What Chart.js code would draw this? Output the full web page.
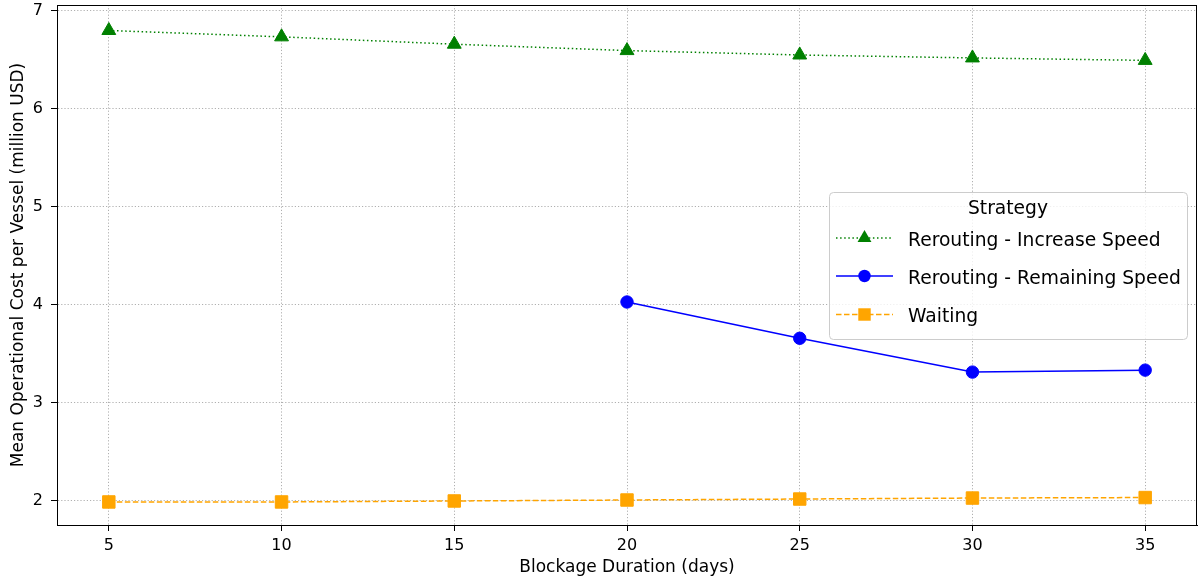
<!DOCTYPE html>
<html>
<head>
<meta charset="utf-8">
<script src="https://cdn.jsdelivr.net/npm/chart.js@4/dist/chart.umd.min.js"></script>
<style>
    html, body { margin: 0; padding: 0; background: #fff; }
    #wrap { width: 1198px; height: 583px; }
</style>
</head>
<body>
<div id="wrap"><canvas id="costChart" width="1198" height="583"></canvas></div>
<script>
// Blockage duration (days)
const durations = [5, 10, 15, 20, 25, 30, 35];

// Mean operational cost per vessel (million USD)
const increaseSpeed = [6.80, 6.735, 6.66, 6.595, 6.55, 6.52, 6.495];
const remainingSpeed = [null, null, null, 4.03, 3.66, 3.315, 3.335];
const waiting = [1.99, 1.99, 2.0, 2.01, 2.02, 2.03, 2.035];

const xTicks = [5, 10, 15, 20, 25, 30, 35];
const yTicks = [2, 3, 4, 5, 6, 7];

const seriesLabels = [
    'Rerouting - Increase Speed',
    'Rerouting - Remaining Speed',
    'Waiting',
];

const FONT = "'DejaVu Sans', sans-serif";

function toPoints(values) {
    return durations.map((d, i) => ({ x: d, y: values[i] }));
}

// 눈금 라벨 때문에 생기는 자동 여백 제거
function clearScalePadding(scale) {
    scale.paddingTop = 0;
    scale.paddingBottom = 0;
    scale.paddingLeft = 0;
    scale.paddingRight = 0;
}

/**
 * 차트 테두리 (위, 오른쪽 포함)
 */
const framePlugin = {
    id: 'frame',
    afterDraw(chart) {
        const { ctx, chartArea: a } = chart;
        ctx.save();
        ctx.strokeStyle = '#000';
        ctx.lineWidth = 1;
        ctx.strokeRect(a.left + 0.5, a.top + 0.5, a.right - a.left - 1, a.bottom - a.top);
        ctx.restore();
    },
};

/**
 * 범례 (matplotlib 스타일, 플롯 안쪽)
 */
const legendPlugin = {
    id: 'innerLegend',
    afterDraw(chart) {
        const ctx = chart.ctx;
        const box = { x: 829.5, y: 192.5, w: 358, h: 147 };
        ctx.save();

        // 박스
        ctx.beginPath();
        ctx.roundRect(box.x, box.y, box.w, box.h, 4);
        ctx.fillStyle = 'rgba(255,255,255,0.8)';
        ctx.fill();
        ctx.strokeStyle = '#cccccc';
        ctx.lineWidth = 1;
        ctx.stroke();

        // 제목
        ctx.fillStyle = '#000';
        ctx.font = '18.7px ' + FONT;
        ctx.textAlign = 'center';
        ctx.textBaseline = 'middle';
        ctx.fillText('Strategy', 1008, 209);

        const rows = [238, 276, 314.5];
        chart.data.datasets.forEach((ds, i) => {
            const y = rows[i];
            ctx.save();
            ctx.strokeStyle = ds.borderColor;
            ctx.lineWidth = ds.borderWidth;
            ctx.setLineDash(ds.borderDash || []);
            ctx.beginPath();
            ctx.moveTo(836, y);
            ctx.lineTo(893, y);
            ctx.stroke();
            ctx.restore();

            drawMarker(ctx, ds.pointStyle, 864.5, y, ds.pointRadius, ds.pointBackgroundColor);

            ctx.fillStyle = '#000';
            ctx.textAlign = 'left';
            ctx.fillText(ds.label, 908, y + 3);
        });
        ctx.restore();
    },
};

function drawMarker(ctx, style, x, y, r, color) {
    ctx.save();
    ctx.fillStyle = color;
    ctx.beginPath();
    if (style === 'triangle') {
        const h = r * Math.sqrt(3) / 2;
        ctx.moveTo(x, y - r);
        ctx.lineTo(x + h, y + r / 2);
        ctx.lineTo(x - h, y + r / 2);
        ctx.closePath();
    } else if (style === 'rect') {
        const s = r * Math.SQRT1_2;
        ctx.rect(x - s, y - s, 2 * s, 2 * s);
    } else {
        ctx.arc(x, y, r, 0, Math.PI * 2);
    }
    ctx.fill();
    ctx.restore();
}

function initCostChart() {
    const ctx = document.getElementById('costChart');

    new Chart(ctx, {
        type: 'line',
        data: {
            datasets: [
                {
                    label: seriesLabels[0],
                    data: toPoints(increaseSpeed),
                    borderColor: '#008000',
                    backgroundColor: '#008000',
                    borderWidth: 1.5,
                    borderDash: [1.5, 2.6],
                    pointStyle: 'triangle',
                    pointRadius: 8,
                    pointBackgroundColor: '#008000',
                    pointBorderColor: '#008000',
                    pointBorderWidth: 1,
                },
                {
                    label: seriesLabels[1],
                    data: toPoints(remainingSpeed),
                    borderColor: '#0000ff',
                    backgroundColor: '#0000ff',
                    borderWidth: 1.5,
                    borderDash: [],
                    pointStyle: 'circle',
                    pointRadius: 6.2,
                    pointBackgroundColor: '#0000ff',
                    pointBorderColor: '#0000ff',
                    pointBorderWidth: 1,
                },
                {
                    label: seriesLabels[2],
                    data: toPoints(waiting),
                    borderColor: '#ffa500',
                    backgroundColor: '#ffa500',
                    borderWidth: 1.5,
                    borderDash: [5.5, 2.5],
                    pointStyle: 'rect',
                    pointRadius: 8.8,
                    pointBackgroundColor: '#ffa500',
                    pointBorderColor: '#ffa500',
                    pointBorderWidth: 1,
                },
            ],
        },
        options: {
            responsive: false,
            animation: false,
            spanGaps: false,
            layout: {
                autoPadding: false,
                padding: { top: 5, right: 1, left: 0, bottom: 0 },
            },
            plugins: {
                legend: { display: false },
                tooltip: { enabled: false },
            },
            scales: {
                x: {
                    type: 'linear',
                    min: 3.5,
                    max: 36.5,
                    afterBuildTicks: (scale) => {
                        scale.ticks = xTicks.map((v) => ({ value: v }));
                    },
                    afterFit: (scale) => {
                        scale.height = 58;
                        clearScalePadding(scale);
                    },
                    ticks: {
                        color: '#000',
                        padding: 5,
                        maxRotation: 0,
                        font: { family: FONT, size: 16 },
                        callback: (v) => String(v),
                    },
                    grid: {
                        color: '#b0b0b0',
                        lineWidth: 1,
                        tickColor: '#000',
                        tickLength: 6,
                        tickWidth: 1,
                        tickBorderDash: [],
                    },
                    border: { display: true, color: '#000', width: 1, dash: [1.2, 2] },
                    title: {
                        display: true,
                        text: 'Blockage Duration (days)',
                        color: '#000',
                        font: { family: FONT, size: 17 },
                        padding: { top: 0, bottom: 5 },
                    },
                },
                y: {
                    type: 'linear',
                    min: 1.755,
                    max: 7.06,
                    afterBuildTicks: (scale) => {
                        scale.ticks = yTicks.map((v) => ({ value: v }));
                    },
                    afterFit: (scale) => {
                        scale.width = 57;
                        clearScalePadding(scale);
                    },
                    ticks: {
                        color: '#000',
                        padding: 8,
                        font: { family: FONT, size: 16 },
                        callback: (v) => String(v),
                    },
                    grid: {
                        color: '#b0b0b0',
                        lineWidth: 1,
                        tickColor: '#000',
                        tickLength: 6,
                        tickWidth: 1,
                        tickBorderDash: [],
                    },
                    border: { display: true, color: '#000', width: 1, dash: [1.2, 2] },
                    title: {
                        display: true,
                        text: 'Mean Operational Cost per Vessel (million USD)',
                        color: '#000',
                        font: { family: FONT, size: 17 },
                        padding: { top: 8, bottom: 0 },
                    },
                },
            },
        },
        plugins: [framePlugin, legendPlugin],
    });
}

document.addEventListener('DOMContentLoaded', () => {
    initCostChart();
});
</script>
</body>
</html>
